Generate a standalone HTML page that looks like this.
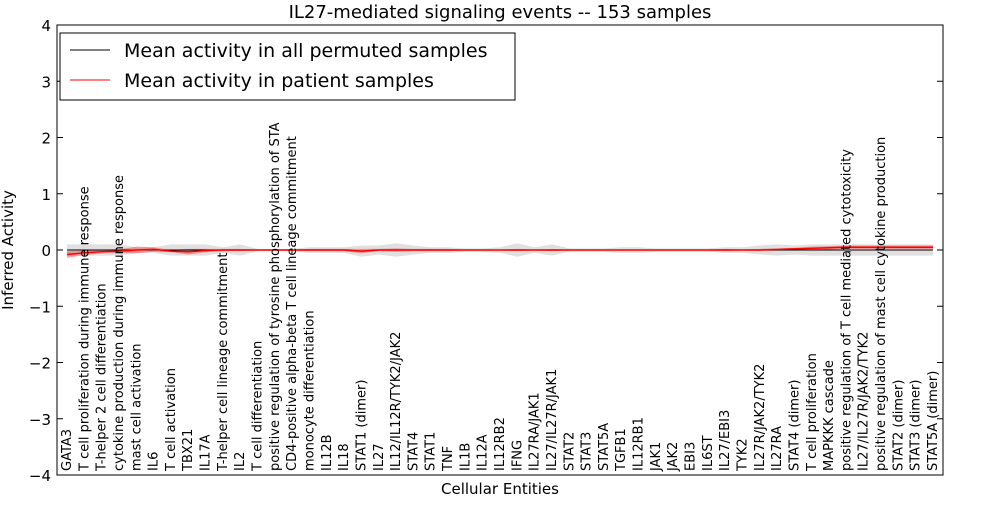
<!DOCTYPE html>
<html><head><meta charset="utf-8"><style>
body{margin:0;background:#fff;}
svg text{font-family:"DejaVu Sans","Liberation Sans",sans-serif;}
</style></head><body>
<svg id="chart" width="1000" height="500" xmlns="http://www.w3.org/2000/svg">
<rect width="1000" height="500" fill="#fff"/>
<text x="500" y="18" font-size="18" text-anchor="middle">IL27-mediated signaling events -- 153 samples</text>
<g id="bands"></g>
<g id="lines"></g>
<rect x="57" y="25" width="886" height="450" fill="none" stroke="#000"/>
<g id="axes"></g>
<g id="xlabels"></g>
<text x="500" y="494" font-size="15" text-anchor="middle">Cellular Entities</text>
<text transform="translate(13,250) rotate(-90)" font-size="15" text-anchor="middle">Inferred Activity</text>
<g>
<rect x="60" y="33" width="455" height="67" fill="#fff" stroke="#000"/>
<line x1="70" y1="50" x2="110" y2="50" stroke="#000"/>
<text x="124" y="57" font-size="19">Mean activity in all permuted samples</text>
<line x1="70" y1="80" x2="110" y2="80" stroke="#f00"/>
<text x="124" y="87" font-size="19">Mean activity in patient samples</text>
</g>
</svg>
<script>
const categories=["GATA3","T cell proliferation during immune response","T-helper 2 cell differentiation","cytokine production during immune response","mast cell activation","IL6","T cell activation","TBX21","IL17A","T-helper cell lineage commitment","IL2","T cell differentiation","positive regulation of tyrosine phosphorylation of STA","CD4-positive alpha-beta T cell lineage commitment","monocyte differentiation","IL12B","IL18","STAT1 (dimer)","IL27","IL12/IL12R/TYK2/JAK2","STAT4","STAT1","TNF","IL1B","IL12A","IL12RB2","IFNG","IL27RA/JAK1","IL27/IL27R/JAK1","STAT2","STAT3","STAT5A","TGFB1","IL12RB1","JAK1","JAK2","EBI3","IL6ST","IL27/EBI3","TYK2","IL27R/JAK2/TYK2","IL27RA","STAT4 (dimer)","T cell proliferation","MAPKKK cascade","positive regulation of T cell mediated cytotoxicity","IL27/IL27R/JAK2/TYK2","positive regulation of mast cell cytokine production","STAT2 (dimer)","STAT3 (dimer)","STAT5A (dimer)"];
const permMean=[0,0,0,0,0,0,0,0,0,0,0,0,0,0,0,0,0,-0.02,0,0,0,0,0,0,0,0,0,0,0,0,0,0,0,0,0,0,0,0,0,0,0,0,0,0,0,0,0,0,0,0,0];
const permSd=[0.1,0.1,0.1,0.1,0.05,0.05,0.1,0.1,0.1,0.05,0.1,0.02,0.02,0.02,0.05,0.05,0.05,0.1,0.08,0.12,0.08,0.05,0.05,0.03,0.03,0.05,0.12,0.05,0.1,0.03,0.03,0.03,0.05,0.05,0.03,0.03,0.03,0.03,0.05,0.05,0.08,0.1,0.08,0.1,0.1,0.1,0.1,0.1,0.1,0.1,0.1];
const patMean=[-0.08,-0.05,-0.03,-0.02,0,0.01,-0.02,-0.03,-0.01,0,0,0,0,0,0,0,0,-0.02,0,0,0,0,0,0,0,0,0,0,0,0,0,0,0,0,0,0,0,0,0,0,0,0.01,0.02,0.03,0.04,0.05,0.05,0.05,0.05,0.05,0.05];
const patSd=[0.06,0.04,0.03,0.03,0.06,0.04,0.02,0.05,0.03,0.02,0.02,0.01,0.01,0.01,0.02,0.02,0.02,0.04,0.02,0.03,0.02,0.02,0.02,0.01,0.01,0.01,0.02,0.01,0.02,0.01,0.01,0.01,0.01,0.01,0.01,0.01,0.01,0.01,0.02,0.01,0.02,0.02,0.02,0.03,0.03,0.03,0.03,0.03,0.03,0.03,0.03];
const yTicks=[-4,-3,-2,-1,0,1,2,3,4];
const NS="http://www.w3.org/2000/svg";
const X0=67,X1=933,Y0=250,PPU=56.25;
const xs=i=>X0+i*(X1-X0)/(categories.length-1);
const ys=v=>Y0-v*PPU;
function mk(tag,attrs,parent){const e=document.createElementNS(NS,tag);for(const k in attrs)e.setAttribute(k,attrs[k]);parent.appendChild(e);return e;}
const bands=document.getElementById('bands'),lines=document.getElementById('lines'),axes=document.getElementById('axes'),xl=document.getElementById('xlabels');
function band(m,s,fill,op,name){
  let up=m.map((v,i)=>xs(i)+','+ys(v+s[i])),dn=m.map((v,i)=>xs(i)+','+ys(v-s[i])).reverse();
  const p=mk('polygon',{points:up.concat(dn).join(' '),fill:fill,'fill-opacity':op},bands);
  
  
}
band(permMean,permSd,'#999',0.3,'permuted-band');
band(patMean,patSd,'#f00',0.35,'patient-band');
const pl=mk('polyline',{points:permMean.map((v,i)=>xs(i)+','+ys(v)).join(' '),fill:'none',stroke:'#000','stroke-width':1},lines);


const rl=mk('polyline',{points:patMean.map((v,i)=>xs(i)+','+ys(v)).join(' '),fill:'none',stroke:'#f00','stroke-width':1.5},lines);


yTicks.forEach(t=>{
  const y=ys(t);
  const a=mk('line',{x1:57,x2:63,y1:y,y2:y,stroke:'#000'},axes);
  
  
  const b=mk('line',{x1:937,x2:943,y1:y,y2:y,stroke:'#000'},axes);
  
  
  const tx=mk('text',{x:51,y:y+6,'font-size':15,'text-anchor':'end'},axes);
  tx.textContent=(t<0?'\u2212'+(-t):t);
  
  
});
categories.forEach((c,i)=>{
  const x=xs(i)+4;
  const t=mk('text',{transform:'translate('+x+',471) rotate(-90)','font-size':13},xl);
  t.textContent=c;
  
  
});
</script>
</body></html>
